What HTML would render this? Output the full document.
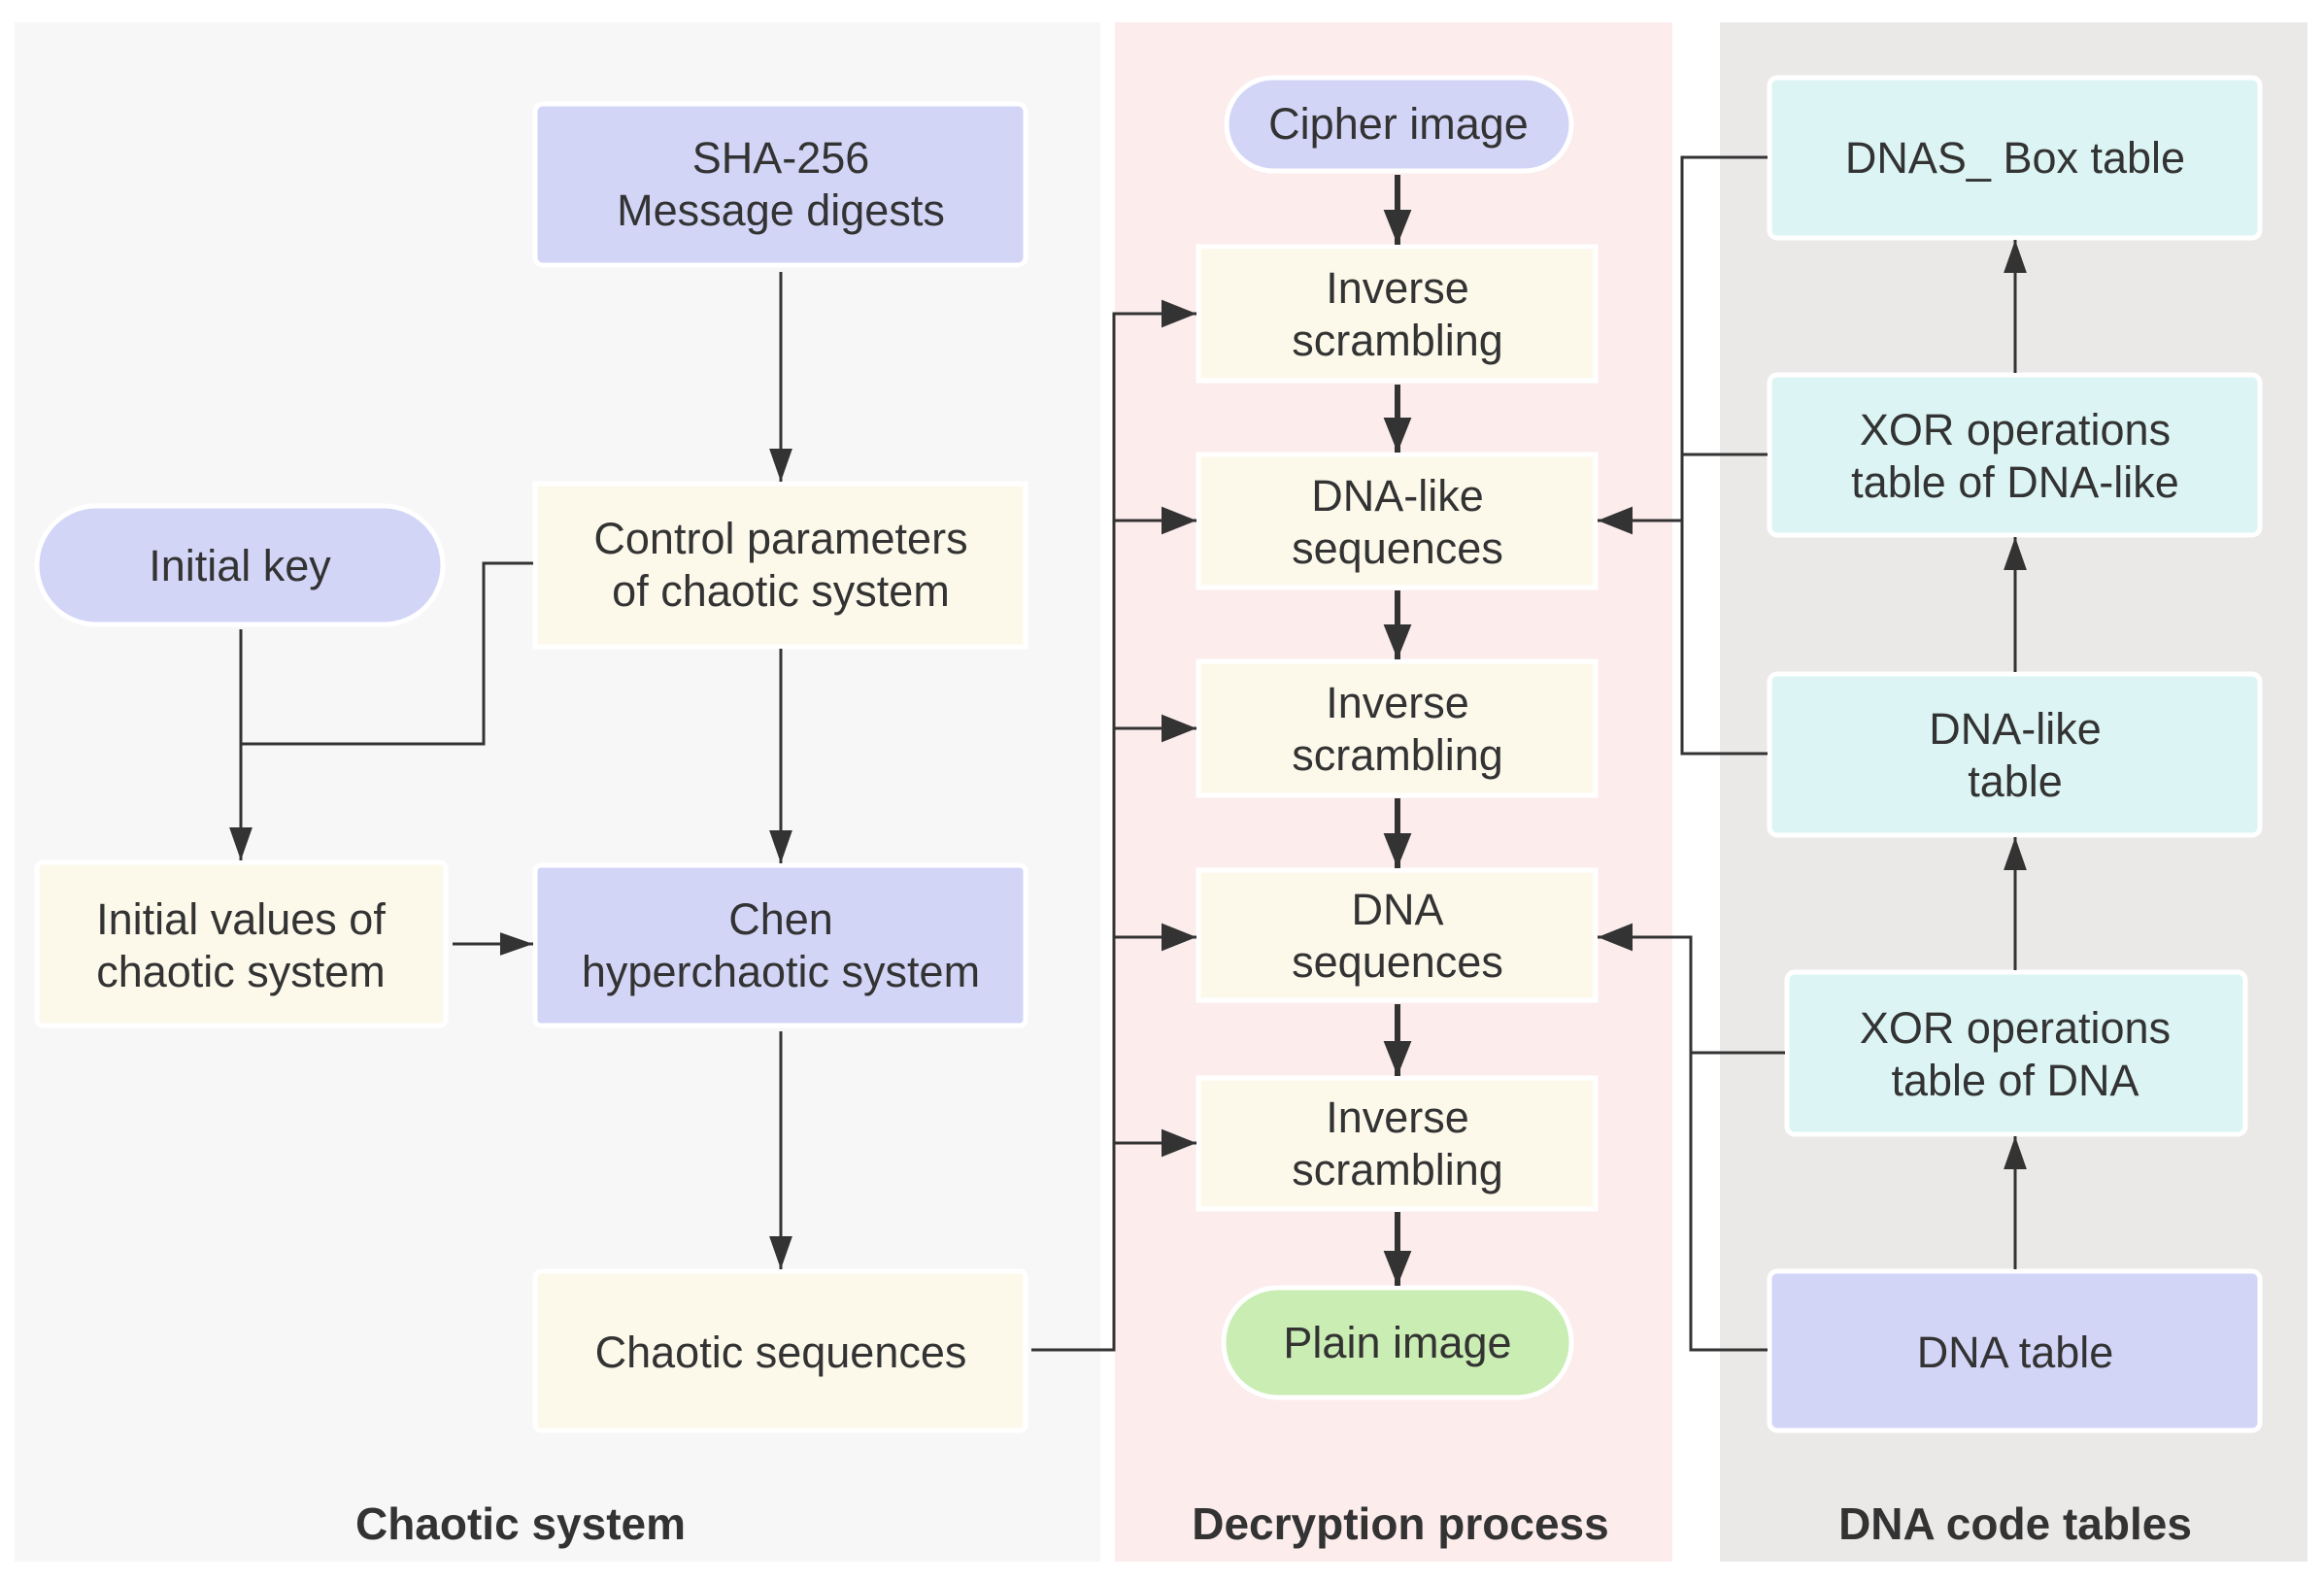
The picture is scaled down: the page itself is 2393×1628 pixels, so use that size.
<!DOCTYPE html>
<html><head><meta charset="utf-8"><style>
body{margin:0;width:2393px;height:1623px;background:#fff;overflow:hidden;font-family:"Liberation Sans",sans-serif}
</style></head><body>
<svg width="2393" height="1623" xmlns="http://www.w3.org/2000/svg" font-family="Liberation Sans, sans-serif">
<defs>
<marker id="b" viewBox="0 0 10 10" refX="10" refY="5" markerWidth="34" markerHeight="34" orient="auto" markerUnits="userSpaceOnUse"><path d="M0,1.5 L10,5 L0,8.5z" fill="#333"/></marker>
<marker id="c" viewBox="0 0 10 10" refX="10" refY="5" markerWidth="36" markerHeight="36" orient="auto" markerUnits="userSpaceOnUse"><path d="M0,1 L10,5 L0,9z" fill="#333"/></marker></defs>
<rect x="15" y="23" width="1118" height="1585" fill="#f7f7f7"/>
<rect x="1148" y="23" width="574" height="1585" fill="#fcecec"/>
<rect x="1771" y="23" width="605" height="1585" fill="#ebe9e8"/>
<g stroke="#fff" stroke-width="5">
<rect x="551" y="107" width="505" height="166" rx="8" fill="#d3d5f7"/>
<rect x="551" y="498" width="505" height="168" fill="#fcf9eb"/>
<rect x="38" y="521" width="418" height="122" rx="61" fill="#d3d5f7"/>
<rect x="38" y="888" width="421" height="168" rx="6" fill="#fcf9eb"/>
<rect x="551" y="891" width="505" height="165" rx="6" fill="#d3d5f7"/>
<rect x="551" y="1309" width="505" height="164" rx="6" fill="#fcf9eb"/>
<rect x="1263" y="80" width="355" height="96" rx="48" fill="#d3d5f7"/>
<rect x="1234" y="254" width="409" height="138" fill="#fcf9eb"/>
<rect x="1234" y="468" width="409" height="137" fill="#fcf9eb"/>
<rect x="1234" y="681" width="409" height="138" fill="#fcf9eb"/>
<rect x="1234" y="896" width="409" height="134" fill="#fcf9eb"/>
<rect x="1234" y="1110" width="409" height="135" fill="#fcf9eb"/>
<rect x="1260" y="1326" width="358" height="113" rx="56" fill="#c9edb3"/>
<rect x="1822" y="80" width="505" height="165" rx="8" fill="#dcf4f4"/>
<rect x="1822" y="386" width="505" height="165" rx="8" fill="#dcf4f4"/>
<rect x="1822" y="694" width="505" height="166" rx="8" fill="#dcf4f4"/>
<rect x="1840" y="1001" width="472" height="167" rx="8" fill="#dcf4f4"/>
<rect x="1822" y="1309" width="505" height="164" rx="8" fill="#d3d5f7"/>
</g>
<g stroke="#333" stroke-width="3" fill="none" marker-end="url(#b)">
<path d="M804 280V496"/>
<path d="M804 668V889"/>
<path d="M804 1062V1307"/>
<path d="M248 648V886"/>
<path d="M466 972H549"/>
<path d="M1062 1390H1147V323H1232" marker-end="url(#c)"/>
<path d="M1147 536H1232" marker-end="url(#c)"/><path d="M1147 750H1232" marker-end="url(#c)"/><path d="M1147 965H1232" marker-end="url(#c)"/><path d="M1147 1177H1232" marker-end="url(#c)"/>
<g stroke-width="6" marker-end="url(#c)">
<path d="M1439 180V252"/>
<path d="M1439 396V466"/>
<path d="M1439 608V679"/>
<path d="M1439 822V894"/>
<path d="M1439 1034V1108"/>
<path d="M1439 1248V1324"/>
</g>
<path d="M1820 162H1732V776H1820" marker-end="none"/>
<path d="M1820 468H1732" marker-end="none"/>
<path d="M1732 536H1645" marker-end="url(#c)"/>
<path d="M1820 1390H1741V965H1645" marker-end="url(#c)"/>
<path d="M1838 1084H1741" marker-end="none"/>
<path d="M2075 1307V1170"/>
<path d="M2075 999V862"/>
<path d="M2075 692V553"/>
<path d="M2075 384V247"/>
<path d="M549 580H498V766H248" marker-end="none"/>
</g>
<g font-size="45" fill="#333" text-anchor="middle">
<text x="804" y="178">SHA-256</text><text x="804" y="232">Message digests</text>
<text x="804" y="570">Control parameters</text><text x="804" y="624">of chaotic system</text>
<text x="247" y="598">Initial key</text>
<text x="248" y="962">Initial values of</text><text x="248" y="1016">chaotic system</text>
<text x="804" y="962">Chen</text><text x="804" y="1016">hyperchaotic system</text>
<text x="804" y="1408">Chaotic sequences</text>
<text x="1440" y="143">Cipher image</text>
<text x="1439" y="312">Inverse</text><text x="1439" y="366">scrambling</text>
<text x="1439" y="526">DNA-like</text><text x="1439" y="580">sequences</text>
<text x="1439" y="739">Inverse</text><text x="1439" y="793">scrambling</text>
<text x="1439" y="952">DNA</text><text x="1439" y="1006">sequences</text>
<text x="1439" y="1166">Inverse</text><text x="1439" y="1220">scrambling</text>
<text x="1439" y="1398">Plain image</text>
<text x="2075" y="178">DNAS_ Box table</text>
<text x="2075" y="458">XOR operations</text><text x="2075" y="512">table of DNA-like</text>
<text x="2075" y="766">DNA-like</text><text x="2075" y="820">table</text>
<text x="2075" y="1074">XOR operations</text><text x="2075" y="1128">table of DNA</text>
<text x="2075" y="1408">DNA table</text>
</g>
<g font-size="46" font-weight="bold" fill="#333" text-anchor="middle">
<text x="536" y="1585">Chaotic system</text>
<text x="1442" y="1585">Decryption process</text>
<text x="2075" y="1585">DNA code tables</text>
</g>
</svg>
</body></html>
